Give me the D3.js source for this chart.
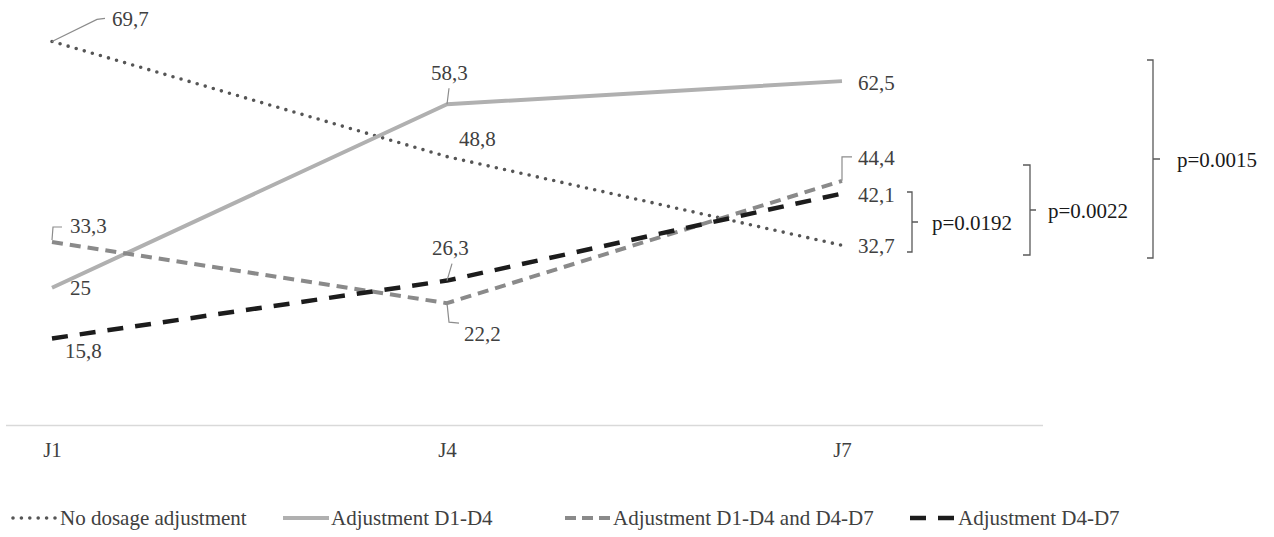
<!DOCTYPE html>
<html>
<head>
<meta charset="utf-8">
<script src="https://cdn.jsdelivr.net/npm/d3@7"></script>
<style>
  html, body { margin: 0; padding: 0; background: #fff; }
  svg { display: block; }
</style>
</head>
<body>
<svg id="chart" width="1274" height="537"></svg>
<script>
// ---- data ----
const categories = ["J1", "J4", "J7"];
const seriesNames = ["No dosage adjustment", "Adjustment D1-D4", "Adjustment D1-D4 and D4-D7", "Adjustment D4-D7"];
const noAdjustment = [69.7, 48.8, 32.7];
const adjD1D4 = [25, 58.3, 62.5];
const adjD1D4D4D7 = [33.3, 22.2, 44.4];
const adjD4D7 = [15.8, 26.3, 42.1];
const pValues = ["p=0.0192", "p=0.0022", "p=0.0015"];

const FONT = "'Liberation Serif', 'Times New Roman', Times, serif";
const seriesValues = [noAdjustment, adjD1D4, adjD1D4D4D7, adjD4D7];
const styles = [
  { color: "#555555", width: 3.6, dash: "0 8.4", cap: "round" },
  { color: "#b0b0b0", width: 4, dash: null, cap: "butt" },
  { color: "#8a8a8a", width: 4, dash: "11 7", cap: "butt" },
  { color: "#1c1c1c", width: 4.5, dash: "16 12", cap: "butt" }
];

const svg = d3.select("#chart").style("font-family", FONT);
const x = d3.scalePoint().domain(categories).range([52, 842]);
const y = d3.scaleLinear().domain([0, 70]).range([425.5, 39.8]);

// axis baseline
svg.append("line").attr("x1", 6).attr("x2", 1043).attr("y1", 425.5).attr("y2", 425.5)
  .attr("stroke", "#d9d9d9").attr("stroke-width", 1.5);

// category labels
const xAxis = d3.axisBottom(x).tickSize(0).tickPadding(0);
const gx = svg.append("g").attr("transform", "translate(0,425.5)").call(xAxis)
  .attr("font-family", null).attr("font-size", null);
gx.select(".domain").remove();
gx.selectAll("text").attr("font-size", 21).attr("fill", "#404040")
  .attr("dy", null).attr("y", 31).style("font-family", FONT);

// lines
const line = d3.line().x((d, i) => x(categories[i])).y(d => y(d));
seriesValues.forEach((vals, s) => {
  const st = styles[s];
  const p = svg.append("path").datum(vals).attr("d", line)
    .attr("fill", "none").attr("stroke", st.color).attr("stroke-width", st.width)
    .attr("stroke-linecap", st.cap).attr("stroke-linejoin", "round");
  if (st.dash) p.attr("stroke-dasharray", st.dash);
});

// data labels: [series, point, dx, dy(baseline from point), leader points relative to point]
const labelDefs = [
  [0, 0, 60, -15, [[0, 0], [45, -22], [53, -23]]],
  [0, 1, 12, -11, null],
  [0, 2, 16, 8, null],
  [1, 0, 18, 7, null],
  [1, 1, -16, -24, [[0, 0], [2, -16]]],
  [1, 2, 16, 9, null],
  [2, 0, 18, -9, [[0, -2], [1, -15], [10, -15]]],
  [2, 1, 17, 38, [[0, 0], [2, 19], [12, 20]]],
  [2, 2, 16, -16, [[0, 0], [0, -24], [10, -24]]],
  [3, 0, 13, 20, null],
  [3, 1, -15, -26, [[0, 0], [5, -17]]],
  [3, 2, 16, 8, null]
];
labelDefs.forEach(([s, i, dx, dy, leader]) => {
  const px = x(categories[i]), py = y(seriesValues[s][i]);
  if (leader) {
    svg.append("polyline")
      .attr("points", leader.map(p => (px + p[0]) + "," + (py + p[1])).join(" "))
      .attr("fill", "none").attr("stroke", "#8c8c8c").attr("stroke-width", 1.2);
  }
  svg.append("text").attr("x", px + dx).attr("y", py + dy)
    .attr("font-size", 21).attr("fill", "#404040").style("font-family", FONT)
    .text(String(seriesValues[s][i]).replace(".", ","));
});

// significance brackets
const bracketGeom = [
  { x: 912, ext: 5, tick: 6, top: 192, bottom: 252, tx: 932 },
  { x: 1030, ext: 7, tick: 6, top: 165, bottom: 255, tx: 1048 },
  { x: 1153, ext: 6, tick: 7, top: 60, bottom: 258, tx: 1177 }
];
bracketGeom.forEach((b, k) => {
  const mid = (b.top + b.bottom) / 2;
  svg.append("path")
    .attr("d", `M${b.x - b.ext},${b.top}H${b.x}V${b.bottom}H${b.x - b.ext}M${b.x},${mid}H${b.x + b.tick}`)
    .attr("fill", "none").attr("stroke", "#595959").attr("stroke-width", 1.3);
  svg.append("text").attr("x", b.tx).attr("y", mid + 8)
    .attr("font-size", 21).attr("fill", "#1a1a1a").style("font-family", FONT).text(pValues[k]);
});

// legend
const legendX = [12, 283, 565, 910];
seriesNames.forEach((name, s) => {
  const st = styles[s];
  const lx = legendX[s], ly = 518;
  const l = svg.append("line").attr("x1", lx).attr("x2", lx + 46).attr("y1", ly).attr("y2", ly)
    .attr("stroke", st.color).attr("stroke-width", st.width).attr("stroke-linecap", st.cap);
  if (s === 0) l.attr("stroke-dasharray", "0 8.4").attr("x1", lx + 1).attr("x2", lx + 45);
  else if (s === 2) l.attr("stroke-dasharray", "11 6");
  else if (s === 3) l.attr("stroke-dasharray", "16 12");
  svg.append("text").attr("x", lx + 48).attr("y", ly + 7)
    .attr("font-size", 21).attr("fill", "#404040").style("font-family", FONT).text(name);
});
</script>
</body>
</html>
